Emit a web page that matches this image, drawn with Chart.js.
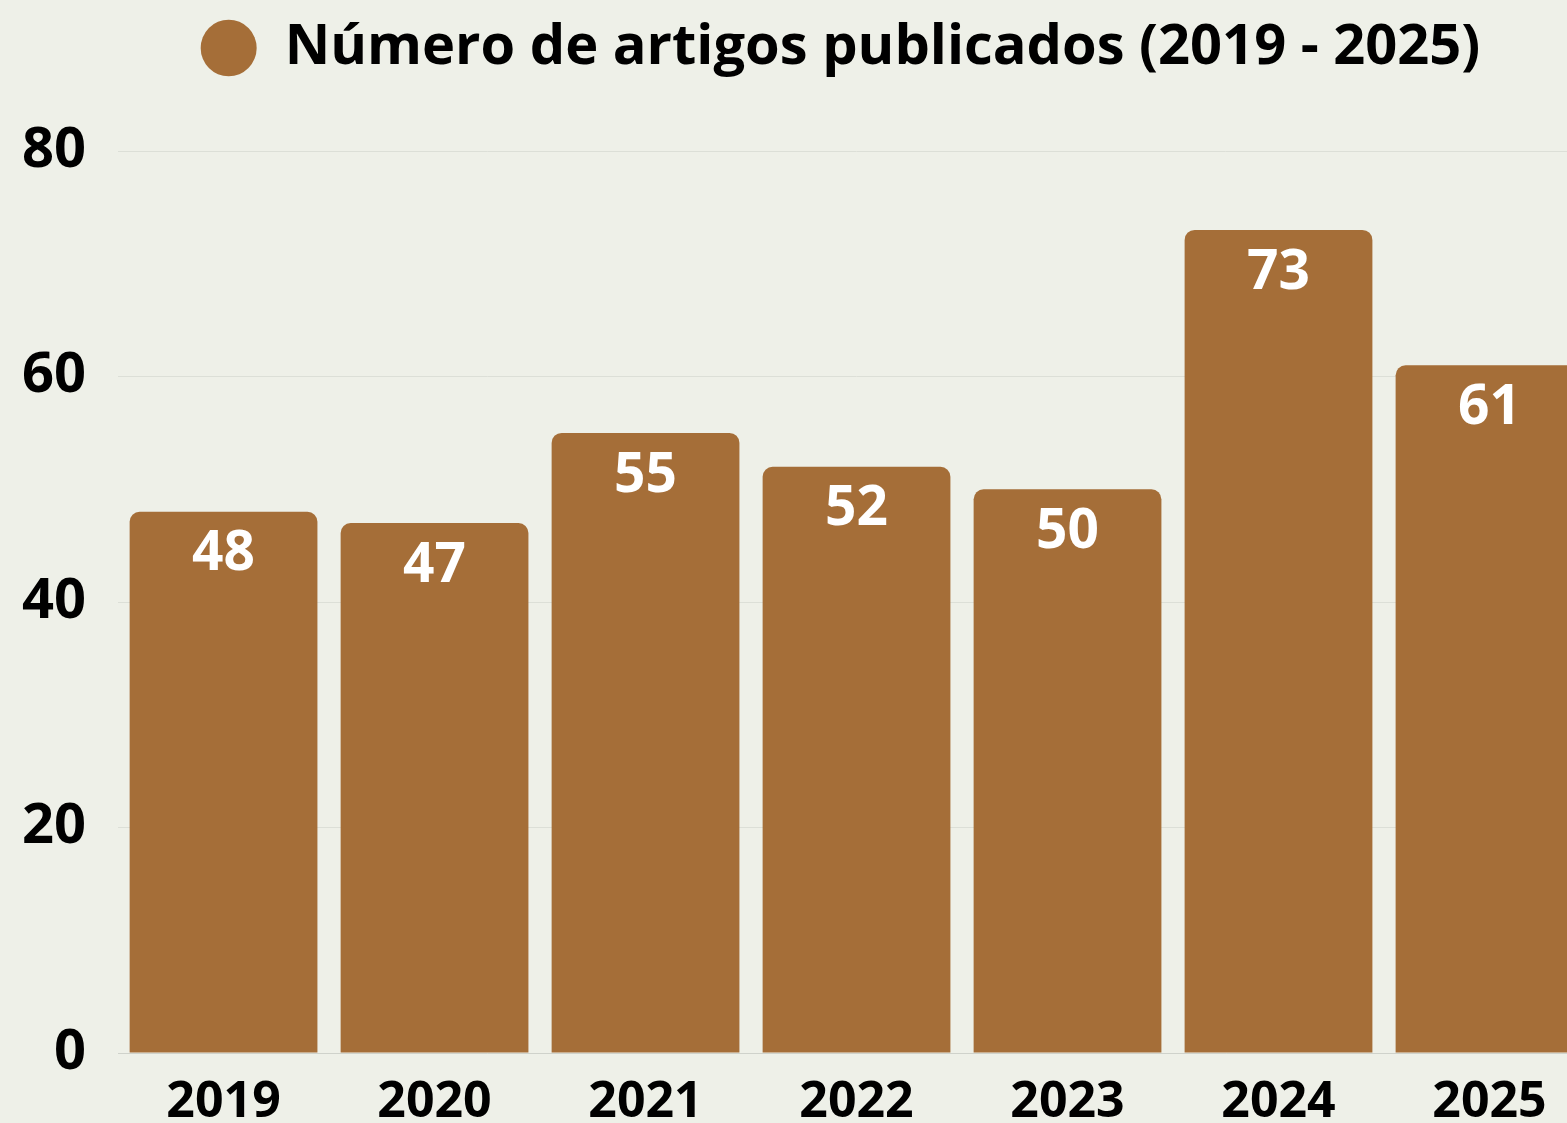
<!DOCTYPE html>
<html>
<head>
<meta charset="utf-8">
<script src="https://cdn.jsdelivr.net/npm/chart.js@4.4.1/dist/chart.umd.min.js"></script>
<style>
    html, body { margin: 0; padding: 0; background: #eef0e8; overflow: hidden; }
    #wrap { width: 1600px; height: 1123px; }
</style>
</head>
<body>
<div id="wrap"><canvas id="myChart"></canvas></div>
<script>
const years = ['2019', '2020', '2021', '2022', '2023', '2024', '2025'];
const artigos = [48, 47, 55, 52, 50, 73, 61];
const yTicks = [0, 20, 40, 60, 80];
const seriesName = 'Número de artigos publicados (2019 - 2025)';

const fontName = "'Open Sans', sans-serif";
const barColor = '#a56e38';

// labels inside the top of each bar
const valueLabels = {
    id: 'valueLabels',
    afterDatasetsDraw(chart) {
        const ctx = chart.ctx;
        const meta = chart.getDatasetMeta(0);
        ctx.save();
        ctx.fillStyle = '#ffffff';
        ctx.font = 'bold 55px ' + fontName;
        ctx.textAlign = 'center';
        ctx.textBaseline = 'middle';
        meta.data.forEach(function (bar, i) {
            ctx.fillText(String(artigos[i]), bar.x, bar.y + 43);
        });
        ctx.restore();
    }
};

// more room under the legend, and push it a bit to the right
const legendGap = {
    id: 'legendGap',
    beforeInit(chart) {
        const fit = chart.legend.fit;
        chart.legend.fit = function () {
            fit.bind(chart.legend)();
            this.height += 65;
        };
    },
    afterLayout(chart) {
        chart.legend.left += 96;
    }
};

const ctx = document.getElementById('myChart');
new Chart(ctx, {
    type: 'bar',
    data: {
        labels: years,
        datasets: [{
            label: seriesName,
            data: artigos,
            backgroundColor: barColor,
            borderRadius: 10,
            barPercentage: 0.89,
            categoryPercentage: 1
        }]
    },
    options: {
        responsive: true,
        maintainAspectRatio: false,
        animation: false,
        layout: {
            padding: { top: 8, right: 5, bottom: -22, left: -10 }
        },
        plugins: {
            legend: {
                labels: {
                    usePointStyle: true,
                    pointStyle: 'circle',
                    boxHeight: 40,
                    pointStyleWidth: 56,
                    padding: 12,
                    color: '#000000',
                    font: { family: fontName, size: 56, weight: 'bold' }
                }
            },
            tooltip: { enabled: false }
        },
        scales: {
            x: {
                grid: { display: false },
                border: { color: '#cfd2cb' },
                ticks: {
                    color: '#000000',
                    padding: 12,
                    font: { family: fontName, size: 50, weight: 'bold' }
                }
            },
            y: {
                min: 0,
                max: 80,
                afterBuildTicks: function (axis) {
                    axis.ticks = yTicks.map(function (v) { return { value: v }; });
                },
                grid: { color: '#dcdfd7', drawTicks: false },
                border: { display: false },
                ticks: {
                    color: '#000000',
                    padding: 32,
                    font: { family: fontName, size: 56, weight: 'bold' }
                }
            }
        }
    },
    plugins: [valueLabels, legendGap]
});
</script>
</body>
</html>
